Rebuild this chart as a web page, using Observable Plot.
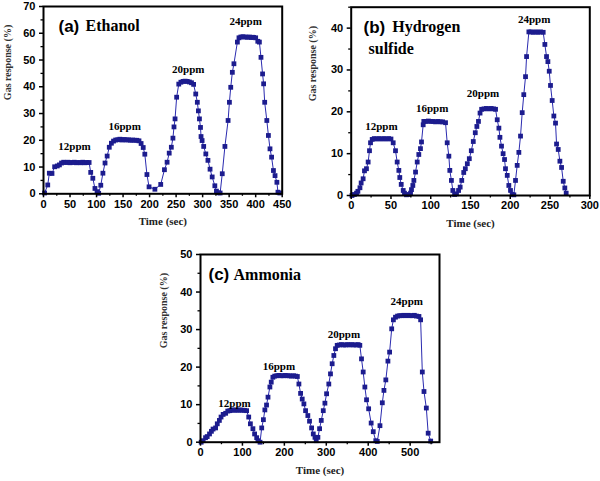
<!DOCTYPE html>
<html><head><meta charset="utf-8">
<script src="https://cdn.jsdelivr.net/npm/d3@7"></script>
<script src="https://cdn.jsdelivr.net/npm/@observablehq/plot@0.6"></script>
<style>
body{margin:0;background:#fff;}
#root{position:relative;width:600px;height:481px;overflow:hidden;background:#fff;}
.panel{position:absolute;}
.panel svg{overflow:visible;}
</style></head><body><div id="root"></div>
<script>
// ---------- (a) Ethanol ----------
const aTime = [2,8,11,16,21,26,30,34,38,42,46,50,54,58,62,66,70,74,78,82,86,
  89,93,97,101,104,
  108,112,116,120,124,128,132,136,140,144,148,152,156,160,164,168,172,176,180,
  184,188,191,195,199,210,221,
  228,233,237,241,244,246,248,251,255,259,263,267,271,275,279,283,
  287,290,292,294,296,297,299,302,306,310,314,318,323,326,330,333,
  337,342,348,350.5,353,356,359,365.5,368.5,372,376,380,384,388,392,396,400,404,
  407,410,413,415,417,421,424,427,430,433.5,436.5,440,442,445.5];
const aResp = [0.3,3.3,7.7,7.6,10.1,10.4,10.8,11.5,11.8,11.7,11.8,11.6,11.7,11.8,11.6,11.7,11.6,11.8,11.6,11.7,11.7,
  8.0,5.8,2.0,0.8,0.2,
  3.2,7.7,11.5,14.1,17.4,18.9,19.7,20.1,20.2,20.4,20.1,20.3,20.1,20.2,20.0,20.1,20.0,20.0,19.8,
  18.8,17.3,14.8,7.2,2.6,1.7,3.5,
  9.0,11.8,15.2,17.4,20.8,25.0,28.0,36.1,41.0,41.7,42.0,42.1,42.0,41.8,41.5,40.9,
  37.3,34.2,31.0,28.0,24.8,21.4,19.9,17.7,14.9,12.5,9.2,6.3,3.0,1.0,0.4,0.3,
  7.5,17.7,27.4,34.2,39.8,45.4,48.6,56.7,58.3,58.6,58.7,58.6,58.5,58.6,58.4,58.5,58.3,57.0,
  56.7,51.0,44.8,41.1,34.2,27.4,21.8,16.8,13.7,8.7,6.8,4.3,0.6,0.3];
const aLabels = ["12ppm","16ppm","20ppm","24ppm"];
const aLabelX = [58.5,153,273,381];
const aLabelY = [17.6,25,46.3,64.5];
const aXTicks = [0,50,100,150,200,250,300,350,400,450];
const aXMinor = [25,75,125,175,225,275,325,375,425];
const aYTicks = [0,10,20,30,40,50,60,70];
const aYMinor = [5,15,25,35,45,55,65];

// ---------- (b) Hydrogen sulfide ----------
const bTime = [1,4,6.7,8.4,11,12.5,15,16.7,19.2,21.3,23,24.3,26.4,29,32,35,38,41,44,47,50,
  52.8,55.7,57.8,59.9,61.1,62.9,65.4,67,69.5,72.5,74.6,75.8,77.5,78.8,80.9,83,85,87.1,88.4,90.5,91.3,
  94,97,100,103,106,109,112,115,118.6,
  120.7,122.8,124,126,127.8,130,132.4,135,137,139,141.5,143.5,146,148.5,151,153.5,156,158,160,162,164,
  167,170,173,176,179,181.5,
  183.6,185.7,187,189,191,192.8,194,196.2,198.2,200.3,202.4,204.5,
  206.6,208.7,210.8,212.9,215,217,219.2,220.5,223.4,226,229,232,235,238,241.4,
  243.5,245.6,247.3,249,250.6,252.7,254.8,256.9,258.2,260.3,262.4,264.5,266.6,268.6,270.3];
const bResp = [0,0.24,0.56,1.0,1.85,3.0,4.0,5.9,6.4,8.0,10.7,12.6,13.4,13.6,13.5,13.6,13.5,13.6,13.5,13.6,13.5,
  12.6,10.7,8.0,6.0,4.3,2.65,1.2,0.56,0.17,0.24,0.56,1.4,2.4,3.6,5.6,8.0,9.8,11.2,12.8,16.9,17.7,
  17.7,17.8,17.7,17.7,17.6,17.7,17.6,17.6,17.4,
  12.6,9.4,6.0,3.6,1.2,0.24,0.4,1.2,2.0,3.6,5.5,6.4,7.6,8.8,10.7,12.9,15.0,16.5,17.7,19.7,20.6,
  20.7,20.8,20.7,20.8,20.7,20.6,
  18.1,16.1,13.9,11.8,10.0,8.6,6.4,4.8,2.4,1.2,0.24,0.16,
  3.6,7.2,10.3,14.2,19.8,24.1,28.4,33.2,39.1,39.1,39.0,39.1,39.0,39.1,39.0,
  36.1,33.2,32.0,29.7,26.3,22.7,19.0,17.3,12.3,11.0,8.2,6.7,3.4,1.8,0.56];
const bLabels = ["12ppm","16ppm","20ppm","24ppm"];
const bLabelX = [37.9,101.8,165.7,230];
const bLabelY = [16.6,20.9,24.3,42];
const bXTicks = [0,50,100,150,200,250,300];
const bXMinor = [25,75,125,175,225,275];
const bYTicks = [0,10,20,30,40];
const bYMinor = [5,15,25,35,45];

// ---------- (c) Ammonia ----------
const cTime = [1.6,6.4,12,16,21.5,26,30,36,40,45,49,54,60,65,70,75,80,85,90,95,100,105,110,
  115,119,125,129,134,137,142,
  146,150,153.5,157.5,161,165.5,168.7,172.6,177,182,187,192,197,202,207,212,217,222,227,231,
  234.7,238.7,242.6,246.6,250.6,256,260,265,269,273,276,
  280,284,288,292.8,296.7,300.7,306,310,314,318,322,326,331,336,341,346,351,356,361,366,371,376,380,
  384,388,392,396,401,407,412,418,421.6,
  428,433.6,437.5,442,447,451,456,460,465,470,475,480,485,490,495,500,505,510,515,521,
  525,529,533,538.6,543,549];
const cResp = [0,0.4,1.2,1.5,2.2,2.9,3.5,3.8,4.9,5.8,6.7,7.4,7.7,8.3,8.4,8.6,8.5,8.6,8.5,8.6,8.5,8.5,8.4,
  6.7,4.9,3.6,2.2,1.2,0.4,0,
  3.8,6.0,8.6,9.9,12.0,14.7,16.0,17.3,17.6,17.7,17.8,17.7,17.7,17.8,17.7,17.7,17.6,17.7,17.6,17.5,
  15.5,13.0,11.5,10.2,8.4,7.1,5.6,3.8,2.2,1.3,0.4,
  1.3,3.6,5.8,8.4,10.4,12.9,15.5,18.2,20.9,23.1,24.9,25.8,25.9,26.0,25.9,25.9,26.0,25.9,26.0,25.9,25.9,26.0,25.8,
  22.2,18.7,14.7,11.3,8.9,5.1,2.8,0.4,0.2,
  4.4,10.5,13.8,16.6,21.6,24.0,30.2,32.6,33.3,33.6,33.7,33.7,33.8,33.7,33.8,33.7,33.7,33.8,33.6,33.5,
  32.6,18.7,13.5,9.1,2.4,0.3];
const cLabels = ["12ppm","16ppm","20ppm","24ppm"];
const cLabelX = [81,187,342,492];
const cLabelY = [10.2,20.2,28.7,37.5];
const cXTicks = [0,100,200,300,400,500];
const cXMinor = [50,150,250,350,450,550];
const cYTicks = [0,10,20,30,40,50];
const cYMinor = [5,15,25,35,45];

const BLUE = "#1c1c8e";
const LINE = "#2b2bb0";
const SERIF = "'Liberation Serif', 'DejaVu Serif', serif";
const SANS = "'Liberation Sans', Arial, sans-serif";

function panel(cfg) {
  const data = cfg.time.map((t, i) => ({t, r: cfg.resp[i]}));
  const labs = cfg.labels.map((s, i) => ({s, x: cfg.labelX[i], y: cfg.labelY[i]}));
  const titleMarks = cfg.titles.map(tt => Plot.text([tt.text], {
    frameAnchor: "top-left", dx: tt.dx, dy: tt.dy, textAnchor: "start", lineAnchor: "middle",
    fontFamily: tt.sans ? SANS : SERIF, fontWeight: "bold", fontSize: tt.size, fill: "black"
  }));
  const plot = Plot.plot({
    width: cfg.width, height: cfg.height,
    marginLeft: cfg.ml, marginRight: cfg.mr, marginTop: cfg.mt, marginBottom: cfg.mb,
    style: {background: "white", fontFamily: SANS, fontSize: "11px", fontWeight: "bold", color: "black", overflow: "visible"},
    x: {domain: cfg.xDomain},
    y: {domain: cfg.yDomain},
    marks: [
      Plot.line(data, {x: "t", y: "r", stroke: LINE, strokeWidth: 1}),
      Plot.dot(data, {x: "t", y: "r", symbol: "square", r: 2.7, fill: BLUE, stroke: null}),
      Plot.axisX(cfg.xTicks, {anchor: "bottom", tickSize: 4, tickPadding: 2, strokeWidth: 1.5, label: null, fontWeight: "bold", fontSize: 11, fontFamily: SANS}),
      Plot.axisX(cfg.xMinor, {anchor: "bottom", tickSize: 2.5, tickFormat: () => "", strokeWidth: 1.3, label: null}),
      Plot.axisY(cfg.yTicks, {anchor: "left", tickSize: 4, tickPadding: 4, strokeWidth: 1.5, label: null, fontWeight: "bold", fontSize: 11, fontFamily: SANS}),
      Plot.axisY(cfg.yMinor, {anchor: "left", tickSize: 2.5, tickFormat: () => "", strokeWidth: 1.3, label: null}),
      Plot.frame({stroke: "black", strokeWidth: 2}),
      Plot.text(labs, {x: "x", y: "y", text: "s", fontFamily: SERIF, fontWeight: "bold", fontSize: 11, fill: "black"}),
      ...titleMarks,
      Plot.text(["Gas response (%)"], {frameAnchor: "left", rotate: -90, dx: cfg.yTitleDx, fontFamily: SERIF, fontWeight: "bold", fontSize: 10, fill: "#333"}),
      Plot.text(["Time (sec)"], {frameAnchor: "bottom", dy: cfg.xTitleDy, fontFamily: SERIF, fontWeight: "bold", fontSize: 11, fill: "#222"})
    ]
  });
  const div = document.createElement("div");
  div.className = "panel";
  div.style.left = cfg.left + "px";
  div.style.top = cfg.top + "px";
  div.appendChild(plot);
  document.getElementById("root").appendChild(div);
}

panel({time: aTime, resp: aResp, labels: aLabels, labelX: aLabelX, labelY: aLabelY,
  xTicks: aXTicks, xMinor: aXMinor, yTicks: aYTicks, yMinor: aYMinor,
  xDomain: [0, 450], yDomain: [0, 70],
  left: 0, top: 0, width: 300, height: 235, ml: 43, mr: 18.3, mt: 6, mb: 41.7,
  yTitleDx: -36, xTitleDy: 30.7,
  titles: [{text: "(a)", sans: true, size: 17, dx: 15, dy: 19.7}, {text: "Ethanol", size: 16, dx: 42, dy: 19.7}]});

panel({time: bTime, resp: bResp, labels: bLabels, labelX: bLabelX, labelY: bLabelY,
  xTicks: bXTicks, xMinor: bXMinor, yTicks: bYTicks, yMinor: bYMinor,
  xDomain: [0, 300], yDomain: [0, 45],
  left: 300, top: 0, width: 300, height: 235, ml: 50.7, mr: 10.7, mt: 6.7, mb: 40,
  yTitleDx: -38, xTitleDy: 31,
  titles: [{text: "(b)", sans: true, size: 17, dx: 12.3, dy: 20}, {text: "Hydrogen", size: 16, dx: 41, dy: 20},
           {text: "sulfide", size: 16, dx: 17.3, dy: 41.6}]});

panel({time: cTime, resp: cResp, labels: cLabels, labelX: cLabelX, labelY: cLabelY,
  xTicks: cXTicks, xMinor: cXMinor, yTicks: cYTicks, yMinor: cYMinor,
  xDomain: [0, 570], yDomain: [0, 50],
  left: 150, top: 240, width: 300, height: 241, ml: 50, mr: 11, mt: 14, mb: 39.3,
  yTitleDx: -37, xTitleDy: 31.3,
  titles: [{text: "(c)", sans: true, size: 17, dx: 8, dy: 20}, {text: "Ammonia", size: 16, dx: 33, dy: 20}]});
</script>
</body></html>
